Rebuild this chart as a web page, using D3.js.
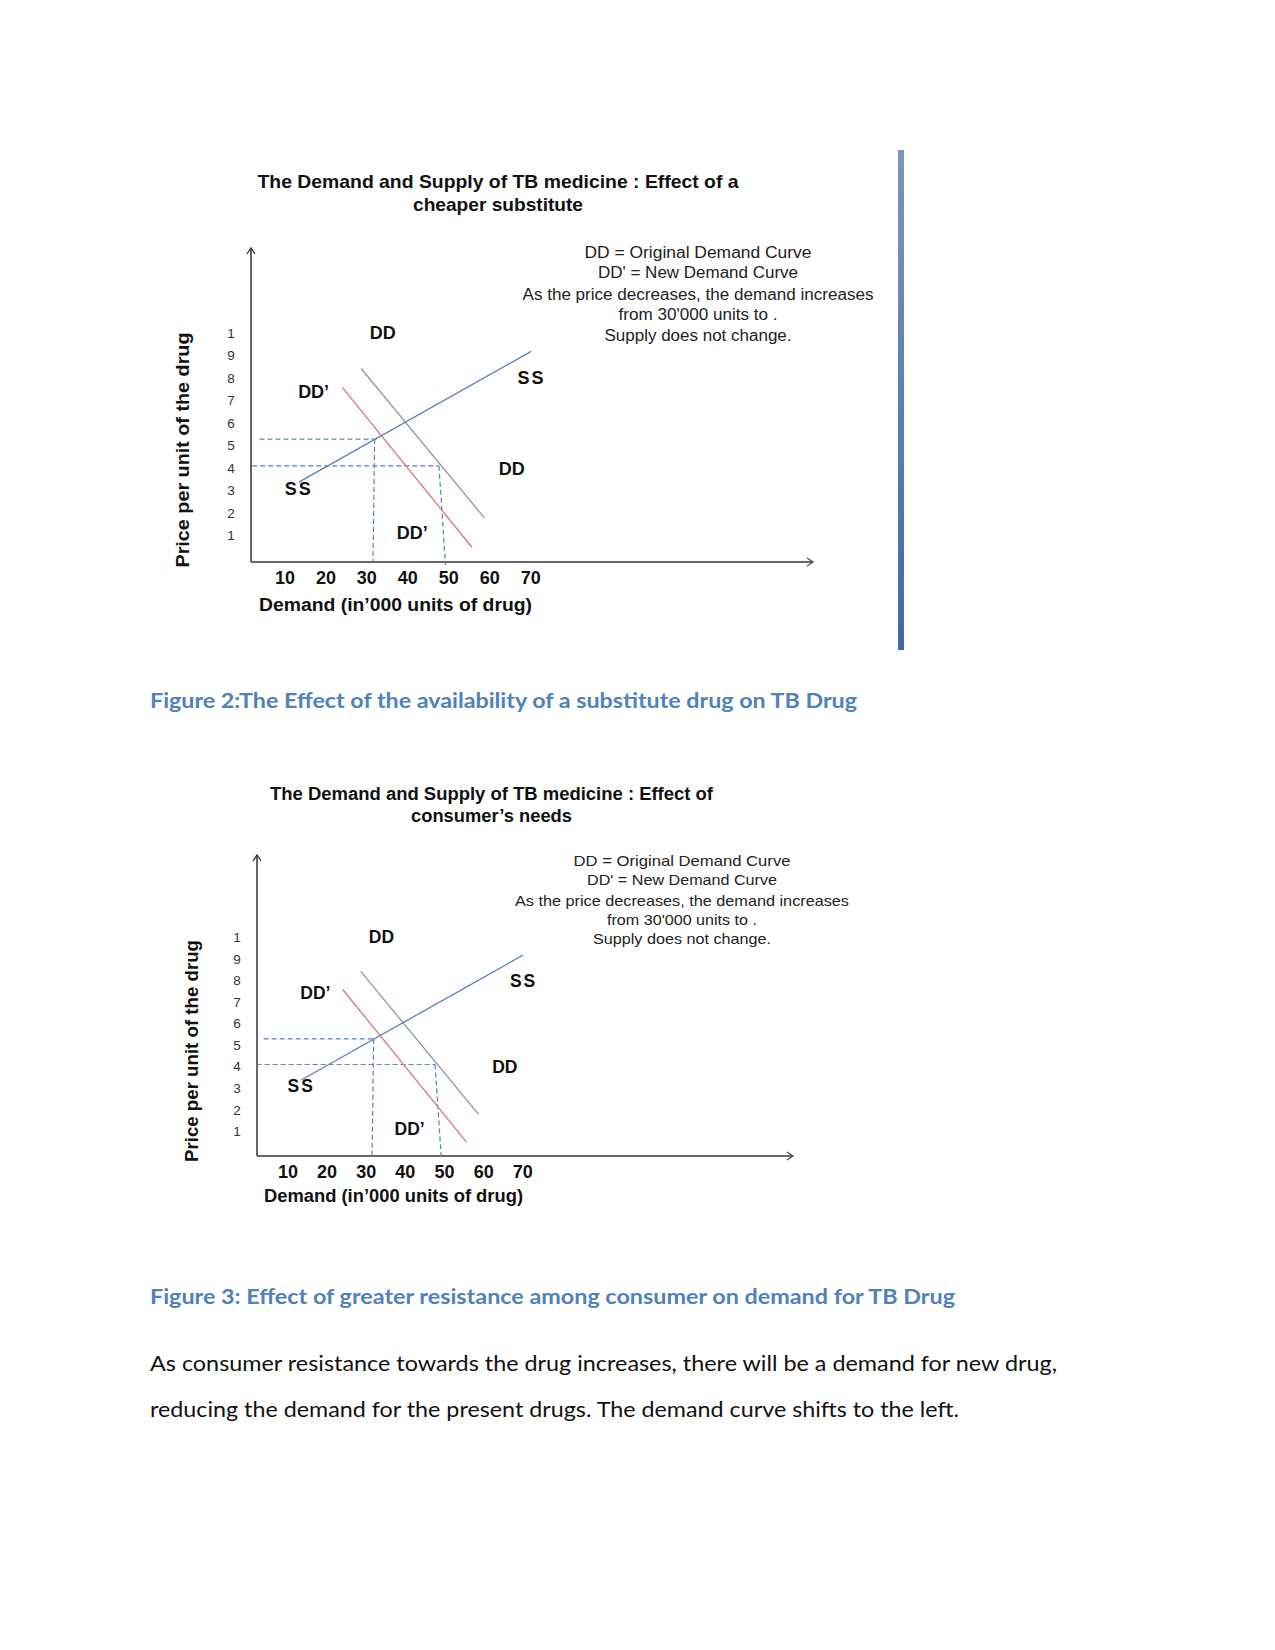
<!DOCTYPE html>
<html><head><meta charset="utf-8">
<script src="https://cdn.jsdelivr.net/npm/d3@7"></script>
<style>body{margin:0;background:#fff} svg{display:block}</style>
</head><body>
<svg id="page" width="1275" height="1650"></svg>
<script>
// ---------- data ----------
const xTickValues = [10, 20, 30, 40, 50, 60, 70];
const xTickLabels = ["10", "20", "30", "40", "50", "60", "70"];
const yTickValues = [1, 2, 3, 4, 5, 6, 7, 8, 9, 10];
const yTickLabels = ["1", "2", "3", "4", "5", "6", "7", "8", "9", "1"];
const supply = [{q: 13.4, p: 3.38}, {q: 70.1, p: 9.18}];
const demandOriginal = [{q: 28.6, p: 8.42}, {q: 58.7, p: 1.79}];
const demandNew = [{q: 24.0, p: 7.58}, {q: 55.6, p: 0.5}];
const guideLines = [
  [{q: 3.8, p: 5.29}, {q: 32.4, p: 5.29}],
  [{q: 31.9, p: 5.29}, {q: 31.5, p: -0.15}],
  [{q: 2.0, p: 4.1}, {q: 47.6, p: 4.1}],
  [{q: 47.6, p: 4.1}, {q: 49.2, p: -0.3}]
];
const curveLabels = [
  {text: "DD", q: 33.9, p: 10.0},
  {text: "DD’", q: 17.0, p: 7.4},
  {text: "SS", q: 70.2, p: 8.0},
  {text: "SS", q: 13.4, p: 3.11},
  {text: "DD", q: 65.4, p: 3.97},
  {text: "DD’", q: 41.1, p: 1.13}
];
const noteLines = ["DD =  Original  Demand  Curve", "DD' = New Demand Curve",
  "As the price decreases, the demand increases", "from 30'000 units to .", "Supply does not change."];
const xTitleText = "Demand (in’000 units of drug)";
const yTitleText = "Price  per unit of the drug";
const captions = ["Figure 2:The Effect of the availability of a substitute drug on TB Drug",
  "Figure 3: Effect of greater resistance among consumer on demand for TB Drug"];
const paragraph = ["As consumer resistance towards the drug increases, there will be a demand for new drug,",
  "reducing the demand for the present drugs. The demand curve shifts to the left."];

// ---------- layout ----------
const charts = [
  {left: 251, bottom: 562, top: 248, right: 813, xr: [244, 530.7], yr: [558.3, 332.9],
   title: ["The Demand and Supply of TB medicine : Effect of a", "cheaper substitute"],
   titleCx: 498, titleY: [182, 205], titleW: [481, 170], titleFs: 18.5,
   note: {cx: 698, ys: [252, 272, 294, 314, 335], ws: [227, 200, 351, 159, 187], fs: 16},
   labelFs: 18, xTitle: {x: 259, y: 605, w: 273}, yTitle: {cx: 183, cy: 450, w: 235}, yTickX: 231},
  {left: 257, bottom: 1156, top: 855, right: 793, xr: [248.8, 522.8], yr: [1152.9, 937.3],
   title: ["The Demand and Supply of TB medicine : Effect of", "consumer’s needs"],
   titleCx: 491.5, titleY: [794, 816], titleW: [443, 161], titleFs: 18,
   note: {cx: 682, ys: [861, 880, 901, 920, 939], ws: [217, 190, 334, 150, 178], fs: 15},
   labelFs: 17.5, xTitle: {x: 264, y: 1196, w: 259}, yTitle: {cx: 192, cy: 1051, w: 222}, yTickX: 237}
];

const svg = d3.select("#page");
const SANS = "'Liberation Sans', Arial, sans-serif";

charts.forEach(c => {
  const g = svg.append("g");
  const x = d3.scaleLinear().domain([0, 70]).range(c.xr);
  const y = d3.scaleLinear().domain([0, 10]).range(c.yr);
  const line = d3.line().x(d => x(d.q)).y(d => y(d.p));

  // title
  c.title.forEach((t, i) => {
    g.append("text").attr("x", c.titleCx).attr("y", c.titleY[i]).attr("dy", "0.35em")
      .attr("text-anchor", "middle").attr("font-family", SANS).attr("font-weight", "bold")
      .attr("font-size", c.titleFs).attr("fill", "#111")
      .attr("textLength", c.titleW[i]).attr("lengthAdjust", "spacingAndGlyphs").text(t);
  });

  // note
  noteLines.forEach((t, i) => {
    g.append("text").attr("x", c.note.cx).attr("y", c.note.ys[i]).attr("dy", "0.35em")
      .attr("text-anchor", "middle").attr("font-family", SANS).attr("font-size", c.note.fs)
      .attr("fill", "#222").attr("textLength", c.note.ws[i]).attr("lengthAdjust", "spacingAndGlyphs")
      .text(t);
  });

  // axes
  g.append("line").attr("x1", c.left).attr("y1", c.bottom).attr("x2", c.left).attr("y2", c.top)
    .attr("stroke", "#333").attr("stroke-width", 1.5);
  g.append("path").attr("d", `M${c.left - 4},${c.top + 6}L${c.left},${c.top}L${c.left + 4},${c.top + 6}`)
    .attr("fill", "none").attr("stroke", "#333").attr("stroke-width", 1.3);
  g.append("line").attr("x1", c.left).attr("y1", c.bottom).attr("x2", c.right).attr("y2", c.bottom)
    .attr("stroke", "#666").attr("stroke-width", 2);
  g.append("path").attr("d", `M${c.right - 6},${c.bottom - 4}L${c.right},${c.bottom}L${c.right - 6},${c.bottom + 4}`)
    .attr("fill", "none").attr("stroke", "#555").attr("stroke-width", 1.4);

  // y tick labels
  g.selectAll(".yt").data(yTickValues).join("text")
    .attr("x", c.yTickX).attr("y", d => y(d)).attr("dy", "0.35em").attr("text-anchor", "middle")
    .attr("font-family", SANS).attr("font-size", 13.5).attr("fill", "#333")
    .text((d, i) => yTickLabels[i]);

  // x tick labels
  g.selectAll(".xt").data(xTickValues).join("text")
    .attr("x", d => x(d)).attr("y", c.bottom + 16).attr("dy", "0.35em").attr("text-anchor", "middle")
    .attr("font-family", SANS).attr("font-weight", "bold").attr("font-size", 18).attr("fill", "#111")
    .text((d, i) => xTickLabels[i]);

  // axis titles
  g.append("text").attr("x", c.xTitle.x).attr("y", c.xTitle.y).attr("dy", "0.35em")
    .attr("font-family", SANS).attr("font-weight", "bold").attr("font-size", 18).attr("fill", "#111")
    .attr("textLength", c.xTitle.w).attr("lengthAdjust", "spacingAndGlyphs").text(xTitleText);
  g.append("text").attr("transform", `translate(${c.yTitle.cx},${c.yTitle.cy}) rotate(-90)`)
    .attr("dy", "0.35em").attr("text-anchor", "middle")
    .attr("font-family", SANS).attr("font-weight", "bold").attr("font-size", 18.5).attr("fill", "#111")
    .attr("textLength", c.yTitle.w).attr("lengthAdjust", "spacingAndGlyphs").text(yTitleText);

  // guide lines
  guideLines.forEach(gl => {
    g.append("path").attr("d", line(gl)).attr("fill", "none").attr("stroke", "#5b80c0")
      .attr("stroke-width", 1.2).attr("stroke-dasharray", "5,3");
  });

  // curves
  g.append("path").attr("d", line(demandNew)).attr("fill", "none").attr("stroke", "#d9787a").attr("stroke-width", 1.3);
  g.append("path").attr("d", line(demandOriginal)).attr("fill", "none").attr("stroke", "#8797b8").attr("stroke-width", 1.3);
  g.append("path").attr("d", line(supply)).attr("fill", "none").attr("stroke", "#5a7fc0").attr("stroke-width", 1.3);

  // curve labels
  g.selectAll(".cl").data(curveLabels).join("text")
    .attr("x", d => x(d.q)).attr("y", d => y(d.p)).attr("dy", "0.35em").attr("text-anchor", "middle")
    .attr("font-family", SANS).attr("font-weight", "bold").attr("font-size", c.labelFs).attr("fill", "#111")
    .attr("letter-spacing", d => d.text === "SS" ? 2 : 0)
    .text(d => d.text);
});

// vertical bar next to figure 2
const defs = svg.append("defs");
const grad = defs.append("linearGradient").attr("id", "barGrad").attr("x1", 0).attr("y1", 0).attr("x2", 0).attr("y2", 1);
grad.append("stop").attr("offset", "0%").attr("stop-color", "#7d95ba");
grad.append("stop").attr("offset", "100%").attr("stop-color", "#4168a6");
svg.append("rect").attr("x", 898).attr("y", 150).attr("width", 6).attr("height", 500).attr("fill", "url(#barGrad)");

// captions
const LATO = "Lato, 'Open Sans', sans-serif";
const capLayout = [{y: 708, w: 707}, {y: 1304, w: 805}];
captions.forEach((t, i) => {
  svg.append("text").attr("x", 150).attr("y", capLayout[i].y)
    .attr("font-family", LATO).attr("font-weight", "bold").attr("font-size", 21).attr("fill", "#4f81bd")
    .attr("textLength", capLayout[i].w).attr("lengthAdjust", "spacingAndGlyphs").text(t);
});

// paragraph
const parLayout = [{y: 1371, w: 907}, {y: 1417, w: 809}];
paragraph.forEach((t, i) => {
  svg.append("text").attr("x", 150).attr("y", parLayout[i].y)
    .attr("font-family", LATO).attr("font-size", 21.5).attr("fill", "#111")
    .attr("textLength", parLayout[i].w).attr("lengthAdjust", "spacingAndGlyphs").text(t);
});
</script>
</body></html>
